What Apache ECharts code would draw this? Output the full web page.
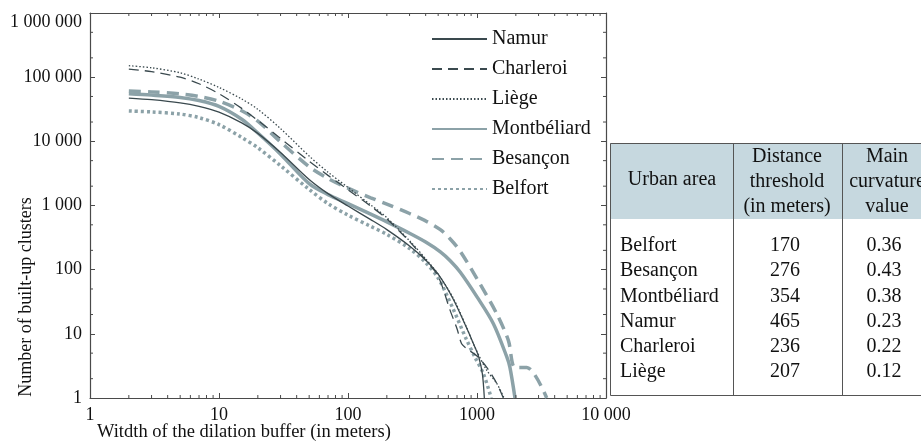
<!DOCTYPE html>
<html>
<head>
<meta charset="utf-8">
<script src="https://cdn.jsdelivr.net/npm/echarts@6/dist/echarts.min.js"></script>
<style>
  html, body { margin: 0; padding: 0; background: #fff; overflow: hidden; }
  #chart { width: 921px; height: 443px; }
</style>
</head>
<body>
<div id="chart"></div>
<script>
  // curves : number of built-up clusters vs dilation width
  var namurX = [2, 3, 5, 7, 10, 15, 20, 30, 50, 70, 100, 150, 200, 300, 400, 500, 650, 825, 960, 1030, 1100, 1140];
  var namurY = [47300, 44600, 39800, 35100, 28500, 19400, 13300, 6700, 2540, 1530, 980, 603, 421, 234, 141, 85, 35.6, 12.8, 6.3, 4.4, 2.4, 1];

  var charleroiX = [2, 3, 5, 7, 10, 15, 20, 30, 50, 70, 100, 150, 200, 300, 400, 500, 620, 700, 760, 830, 1000, 1190, 1420, 1600];
  var charleroiY = [133000, 122000, 99800, 78900, 55200, 32600, 21200, 11100, 4890, 2950, 1760, 977, 617, 274, 141, 79, 23, 12, 7, 5.9, 4.5, 3, 1.7, 1];

  var liegeX = [2, 3, 5, 7, 10, 15, 20, 30, 50, 70, 100, 150, 200, 300, 400, 500, 650, 825, 960, 1190, 1420, 1620];
  var liegeY = [151000, 140000, 117000, 93300, 69200, 45700, 31600, 15800, 5890, 3310, 1910, 1020, 646, 282, 148, 85, 37, 13, 6.3, 2.7, 1.7, 1];

  var montbeliardX = [2, 3, 5, 7, 10, 15, 20, 30, 50, 70, 100, 150, 200, 300, 400, 520, 620, 740, 1000, 1340, 1700, 1800, 1970];
  var montbeliardY = [55000, 52500, 48400, 43200, 35100, 22100, 13500, 6310, 2190, 1480, 1070, 733, 556, 370, 270, 190, 138, 92, 37.7, 14.4, 4.4, 3, 1];

  var besanconX = [2, 3, 5, 7, 10, 15, 20, 30, 50, 70, 100, 150, 200, 300, 400, 520, 620, 740, 1050, 1420, 1750, 1970, 2430, 3470];
  var besanconY = [61000, 58900, 55000, 50100, 42200, 29900, 20700, 9770, 4030, 2630, 1860, 1320, 1050, 750, 575, 420, 300, 195, 61, 20.7, 7.9, 3, 3, 1];

  var belfortX = [2, 3, 5, 7, 10, 15, 20, 30, 50, 70, 100, 150, 200, 300, 400, 500, 650, 825, 960, 1120, 1290];
  var belfortY = [29700, 28700, 26600, 23400, 18200, 11500, 7940, 4170, 1780, 1070, 708, 473, 355, 214, 129, 74, 25, 8.3, 4.4, 2.4, 1];

  // tick labels
  var xTickLabels = ['1', '10', '100', '1000', '10 000'];
  var yTickLabels = ['1', '10', '100', '1 000', '10 000', '100 000', '1 000 000'];

  // table on the right
  var tableAreas = ['Belfort', 'Besançon', 'Montbéliard', 'Namur', 'Charleroi', 'Liège'];
  var tableThresholds = ['170', '276', '354', '465', '236', '207'];
  var tableCurvatures = ['0.36', '0.43', '0.38', '0.23', '0.22', '0.12'];

  var DARK = '#3a494e';
  var GREY = '#8ca2a8';
  var AXIS = '#4a4a4a';
  var SERIF = '"Liberation Serif", "Times New Roman", serif';

  function pairs(xs, ys) {
    return xs.map(function (x, i) { return [x, ys[i]]; });
  }

  function lineSeries(name, xs, ys, color, width, type) {
    return {
      name: name,
      type: 'line',
      data: pairs(xs, ys),
      showSymbol: false,
      symbol: 'none',
      smooth: 0.3,
      lineStyle: {color: color, width: width, type: type},
      itemStyle: {color: color},
      z: width > 2 ? 2 : 3
    };
  }

  // minor log ticks (2..9 on x, 2 and 5 on y)
  var xMinor = [];
  for (var d = 1; d < 10000; d *= 10) {
    for (var k = 2; k <= 9; k++) xMinor.push([k * d, 1]);
  }
  var yMinor = [];
  for (var e = 1; e < 1000000; e *= 10) {
    yMinor.push([1, 2 * e]);
    yMinor.push([1, 5 * e]);
  }

  function tickLine(x1, y1, x2, y2) {
    return {type: 'line', shape: {x1: x1, y1: y1, x2: x2, y2: y2}, style: {stroke: AXIS, lineWidth: 1}};
  }

  var minorX = {
    type: 'custom', silent: true, data: xMinor, z: 5,
    renderItem: function (params, api) {
      var v = api.value(0);
      var b = api.coord([v, 1]);
      var t = api.coord([v, 1000000]);
      return {type: 'group', children: [tickLine(b[0], b[1], b[0], b[1] - 3), tickLine(t[0], t[1], t[0], t[1] + 3)]};
    }
  };
  var minorY = {
    type: 'custom', silent: true, data: yMinor, z: 5,
    renderItem: function (params, api) {
      var v = api.value(1);
      var l = api.coord([1, v]);
      var r = api.coord([10000, v]);
      return {type: 'group', children: [tickLine(l[0], l[1], l[0] + 3, l[1]), tickLine(r[0], r[1], r[0] - 3, r[1])]};
    }
  };

  function logAxis(pos, min, max, labels) {
    return {
      type: 'log',
      logBase: 10,
      position: pos,
      min: min,
      max: max,
      axisLine: {show: true, onZero: false, lineStyle: {color: AXIS, width: 1.2}},
      axisTick: {show: true, inside: true, length: 5, lineStyle: {color: AXIS, width: 1}},
      splitLine: {show: false},
      axisLabel: labels ? {
        show: true,
        color: '#111',
        fontFamily: SERIF,
        fontSize: 18,
        margin: 8,
        verticalAlignMaxLabel: 'top',
        formatter: function (v) { return labels[Math.round(Math.log10(v))]; }
      } : {show: false}
    };
  }

  // table drawn with graphic elements
  var tbl = {left: 610, top: 143, headH: 76, bottom: 395, col1: 733, col2: 842, right: 950};
  var txt = function (s, x, y, align) {
    return {
      type: 'text', x: x, y: y, silent: true,
      style: {text: s, font: '20px ' + SERIF, fill: '#111', align: align || 'center', verticalAlign: 'middle'}
    };
  };
  var tableGraphic = [
    {type: 'rect', shape: {x: tbl.left, y: tbl.top, width: tbl.right - tbl.left, height: tbl.headH}, style: {fill: '#c6d8df'}},
    {type: 'rect', shape: {x: tbl.left + 0.5, y: tbl.top + 0.5, width: tbl.right - tbl.left, height: tbl.bottom - tbl.top}, style: {fill: 'none', stroke: '#555', lineWidth: 1}},
    {type: 'line', shape: {x1: tbl.col1 + 0.5, y1: tbl.top, x2: tbl.col1 + 0.5, y2: tbl.bottom}, style: {stroke: '#555', lineWidth: 1}},
    {type: 'line', shape: {x1: tbl.col2 + 0.5, y1: tbl.top, x2: tbl.col2 + 0.5, y2: tbl.bottom}, style: {stroke: '#555', lineWidth: 1}},
    txt('Urban area', 672, 180),
    txt('Distance', 787, 157), txt('threshold', 787, 182), txt('(in meters)', 787, 207),
    txt('Main', 887, 157), txt('curvature', 887, 182), txt('value', 887, 207)
  ];
  tableAreas.forEach(function (a, i) {
    var y = 246 + i * 25.2;
    tableGraphic.push(txt(a, 620, y, 'left'));
    tableGraphic.push(txt(tableThresholds[i], 785, y));
    tableGraphic.push(txt(tableCurvatures[i], 884, y));
  });

  // axis titles
  tableGraphic.push({
    type: 'text', x: 26, y: 297, rotation: Math.PI / 2, silent: true,
    style: {text: 'Number of built-up clusters', font: '18px ' + SERIF, fill: '#111', align: 'center', verticalAlign: 'middle'}
  });
  tableGraphic.push({
    type: 'text', x: 97, y: 432, silent: true,
    style: {text: 'Witdth of the dilation buffer (in meters)', font: '18.5px ' + SERIF, fill: '#111', align: 'left', verticalAlign: 'middle'}
  });

  var chart = echarts.init(document.getElementById('chart'), null, {renderer: 'canvas'});
  chart.setOption({
    backgroundColor: '#fff',
    animation: false,
    grid: {left: 90, right: 315, top: 13, bottom: 45, containLabel: false},
    xAxis: [logAxis('bottom', 1, 10000, xTickLabels), logAxis('top', 1, 10000, null)],
    yAxis: [logAxis('left', 1, 1000000, yTickLabels), logAxis('right', 1, 1000000, null)],
    legend: {
      data: ['Namur', 'Charleroi', 'Liège', 'Montbéliard', 'Besançon', 'Belfort'],
      orient: 'vertical',
      left: 426,
      top: 24,
      itemWidth: 55,
      itemHeight: 14,
      itemGap: 10,
      itemStyle: {opacity: 0},
      textStyle: {fontFamily: SERIF, fontSize: 20, lineHeight: 20, color: '#111'}
    },
    graphic: tableGraphic,
    series: [
      lineSeries('Namur', namurX, namurY, DARK, 1.3, 'solid'),
      lineSeries('Charleroi', charleroiX, charleroiY, DARK, 1.3, [10, 6]),
      lineSeries('Liège', liegeX, liegeY, DARK, 1.3, [1.5, 2]),
      lineSeries('Montbéliard', montbeliardX, montbeliardY, GREY, 3.5, 'solid'),
      lineSeries('Besançon', besanconX, besanconY, GREY, 3.5, [12, 7]),
      lineSeries('Belfort', belfortX, belfortY, GREY, 3.5, [3, 3]),
      minorX,
      minorY
    ]
  });
</script>
</body>
</html>
